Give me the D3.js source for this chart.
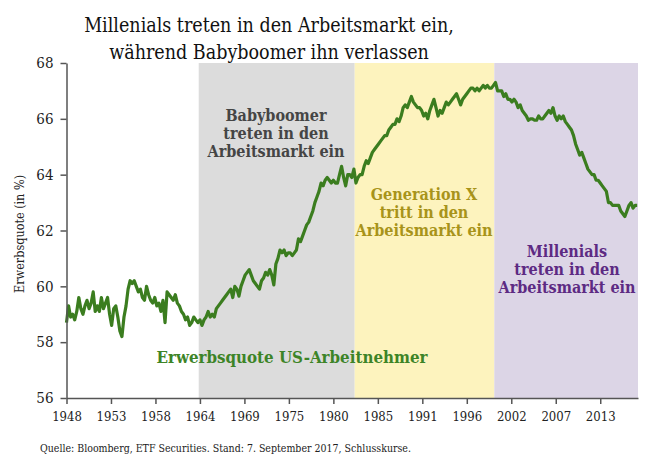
<!DOCTYPE html>
<html>
<head>
<meta charset="utf-8">
<script src="https://cdn.jsdelivr.net/npm/d3@7"></script>
<style>
  body { margin: 0; background: #fff; }
  svg { display: block; }
  text { font-family: "DejaVu Serif", serif; font-stretch: condensed; }
</style>
</head>
<body>
<script>
const W = 649, H = 457
const margin = { top: 63, right: 11, bottom: 59, left: 66.5 }

// quarterly participation rate, starting 1948 Q1
const startYear = 1948
const rate = [
  58.7, 59.3, 58.9, 59.0,   // 1948
  58.8, 59.1, 59.6, 59.2,   // 1949
  59.0, 59.3, 59.5, 59.2,   // 1950
  59.4, 59.8, 59.1, 59.3,   // 1951
  59.1, 59.6, 59.2, 59.4,   // 1952
  59.6, 59.0, 58.6, 59.2,   // 1953
  59.3, 58.9, 58.4, 58.2,   // 1954
  58.9, 59.3, 59.9, 60.2,   // 1955
  60.1, 60.2, 60.0, 59.8,   // 1956
  59.9, 59.6, 59.5, 60.0,   // 1957
  59.7, 59.5, 59.4, 59.6,   // 1958
  59.3, 59.4, 59.1, 59.5,   // 1959
  58.7, 59.8, 59.7, 59.6,   // 1960
  59.5, 59.7, 59.4, 59.3,   // 1961
  59.1, 59.0, 58.8, 58.9,   // 1962
  58.6, 58.7, 58.9, 58.8,   // 1963
  58.7, 58.8, 58.6, 58.8,   // 1964
  58.9, 59.1, 58.9, 59.0,   // 1965
  58.9, 59.2, 59.3, 59.4,   // 1966
  59.5, 59.6, 59.7, 59.8,   // 1967
  59.9, 59.6, 60.0, 59.9,   // 1968
  59.65, 60.0, 60.2, 60.4,  // 1969
  60.5, 60.6, 60.4, 60.2,   // 1970
  60.1, 60.0, 59.9, 60.2,   // 1971
  60.3, 60.5, 60.4, 60.6,   // 1972
  60.4, 60.05, 60.8, 61.0,  // 1973
  61.3, 61.2, 61.3, 61.1,   // 1974
  61.2, 61.2, 61.1, 61.2,   // 1975
  61.3, 61.7, 61.6, 61.8,   // 1976
  62.0, 62.2, 62.3, 62.5,   // 1977
  62.7, 63.0, 63.2, 63.4,   // 1978
  63.7, 63.6, 63.8, 63.9,   // 1979
  63.8, 63.7, 63.8, 63.7,   // 1980
  63.7, 64.0, 64.3, 63.9,   // 1981
  63.6, 64.0, 64.0, 63.9,   // 1982
  64.2, 63.7, 63.9, 64.0,   // 1983
  64.0, 64.3, 64.5, 64.4,   // 1984
  64.6, 64.8, 64.9, 65.0,   // 1985
  65.1, 65.2, 65.3, 65.4,   // 1986
  65.4, 65.6, 65.7, 65.8,   // 1987
  65.8, 66.0, 65.9, 66.1,   // 1988
  66.4, 66.5, 66.4, 66.6,   // 1989
  66.8, 66.6, 66.5, 66.4,   // 1990
  66.4, 66.3, 66.1, 66.2,   // 1991
  66.0, 66.3, 66.5, 66.7,   // 1992
  66.4, 66.1, 66.3, 66.2,   // 1993
  66.4, 66.6, 66.5, 66.6,   // 1994
  66.7, 66.8, 66.9, 66.7,   // 1995
  66.5, 66.7, 66.8, 66.9,   // 1996
  67.0, 67.1, 67.1, 67.0,   // 1997
  67.1, 67.0, 67.1, 67.2,   // 1998
  67.1, 67.2, 67.1, 67.1,   // 1999
  67.2, 67.3, 67.0, 67.0,   // 2000
  67.0, 66.8, 66.9, 66.7,   // 2001
  66.7, 66.6, 66.7, 66.6,   // 2002
  66.4, 66.5, 66.3, 66.2,   // 2003
  66.1, 65.95, 66.0, 66.0,  // 2004
  65.95, 65.95, 66.1, 66.0, // 2005
  66.0, 66.1, 66.2, 66.3,   // 2006
  66.2, 66.4, 66.1, 65.95,  // 2007
  66.1, 66.0, 66.1, 65.9,   // 2008
  65.8, 65.7, 65.6, 65.4,   // 2009
  65.1, 64.9, 64.7, 64.8,   // 2010
  64.6, 64.4, 64.2, 64.1,   // 2011
  64.0, 64.0, 63.8, 63.8,   // 2012
  63.7, 63.6, 63.5, 63.4,   // 2013
  63.0, 63.0, 62.9, 62.9,   // 2014
  62.9, 62.9, 62.7, 62.6,   // 2015
  62.5, 62.7, 62.9, 63.0,   // 2016
  62.8, 62.9, 62.9          // 2017
]

// generations entering the labour market
const eras = [
  { name: ["Babyboomer", "treten in den", "Arbeitsmarkt ein"], start: 1964.1, end: 1983.1, fill: "#dcdcdc", color: "#454545" },
  { name: ["Generation X", "tritt in den", "Arbeitsmarkt ein"], start: 1983.1, end: 2000.1, fill: "#fdf3be", color: "#a8931a" },
  { name: ["Millenials", "treten in den", "Arbeitsmarkt ein"], start: 2000.1, end: 2017.6, fill: "#dcd5e6", color: "#5d2a83" }
]

const yTicks = [56, 58, 60, 62, 64, 66, 68]
// 13 evenly spaced ticks, every 65 months
const xTicks = d3.range(13).map(i => startYear + i * 65 / 12)

const svg = d3.select("body").append("svg")
    .attr("width", W)
    .attr("height", H)

const x = d3.scaleLinear()
    .domain([1948, 2017.6])
    .range([margin.left, W - margin.right])

const y = d3.scaleLinear()
    .domain([56, 68])
    .range([H - margin.bottom, margin.top])

// background bands
svg.selectAll(".era").data(eras)
    .enter()
    .append("rect")
    .attr("x", d => x(d.start))
    .attr("width", d => x(d.end) - x(d.start))
    .attr("y", y(68))
    .attr("height", y(56) - y(68))
    .attr("fill", d => d.fill)

// title
svg.append("text")
    .attr("text-anchor", "middle")
    .style("font-size", "19.5px")
    .attr("fill", "#111")
    .selectAll("tspan")
    .data(["Millenials treten in den Arbeitsmarkt ein,", "während Babyboomer ihn verlassen"])
    .enter()
    .append("tspan")
    .attr("x", 269)
    .attr("y", (d, i) => 32 + i * 27)
    .text(d => d)

// era labels
const labelPos = [
    { x: 276, y: 121 },
    { x: 424, y: 200 },
    { x: 567, y: 257 }
]
eras.forEach((e, k) => {
    svg.append("text")
        .attr("text-anchor", "middle")
        .style("font-weight", "bold")
        .style("font-size", "16px")
        .attr("fill", e.color)
        .selectAll("tspan")
        .data(e.name)
        .enter()
        .append("tspan")
        .attr("x", labelPos[k].x)
        .attr("y", (d, i) => labelPos[k].y + i * 18)
        .text(d => d)
})

// the line
const line = d3.line()
    .x((d, i) => x(startYear + i / 4))
    .y(d => y(d))

svg.append("path")
    .datum(rate)
    .attr("d", line)
    .attr("fill", "none")
    .attr("stroke", "#3b7d1f")
    .attr("stroke-width", 3.2)
    .attr("stroke-linejoin", "round")

svg.append("text")
    .attr("x", 292)
    .attr("y", 363)
    .attr("text-anchor", "middle")
    .style("font-weight", "bold")
    .style("font-size", "16.8px")
    .attr("fill", "#3d8427")
    .text("Erwerbsquote US-Arbeitnehmer")

// axes
const yAxis = svg.append("g")
    .attr("transform", "translate(" + margin.left + ",0)")
    .call(d3.axisLeft(y).tickValues(yTicks).tickSize(6).tickSizeOuter(0).tickPadding(7))

const xAxis = svg.append("g")
    .attr("transform", "translate(0," + (H - margin.bottom) + ")")
    .call(d3.axisBottom(x).tickValues(xTicks).tickSize(6).tickSizeOuter(0).tickPadding(8)
        .tickFormat(d => Math.floor(d + 1e-6)))

svg.selectAll(".domain, .tick line")
    .attr("stroke", "#555")
    .attr("stroke-width", 1.5)

yAxis.selectAll("text")
    .style("font-family", "'DejaVu Serif', serif")
    .style("font-size", "15px")
    .attr("fill", "#222")

xAxis.selectAll("text")
    .style("font-family", "'DejaVu Serif', serif")
    .style("font-size", "13px")
    .attr("fill", "#222")

// y label
svg.append("text")
    .attr("text-anchor", "middle")
    .attr("transform", "translate(" + 24 + "," + 234 + ")rotate(-90)")
    .style("font-size", "12.5px")
    .attr("fill", "#222")
    .text("Erwerbsquote (in %)")

// source
svg.append("text")
    .attr("x", 40)
    .attr("y", 452)
    .style("font-size", "10.5px")
    .attr("fill", "#222")
    .text("Quelle: Bloomberg, ETF Securities. Stand: 7. September 2017, Schlusskurse.")
</script>
</body>
</html>
